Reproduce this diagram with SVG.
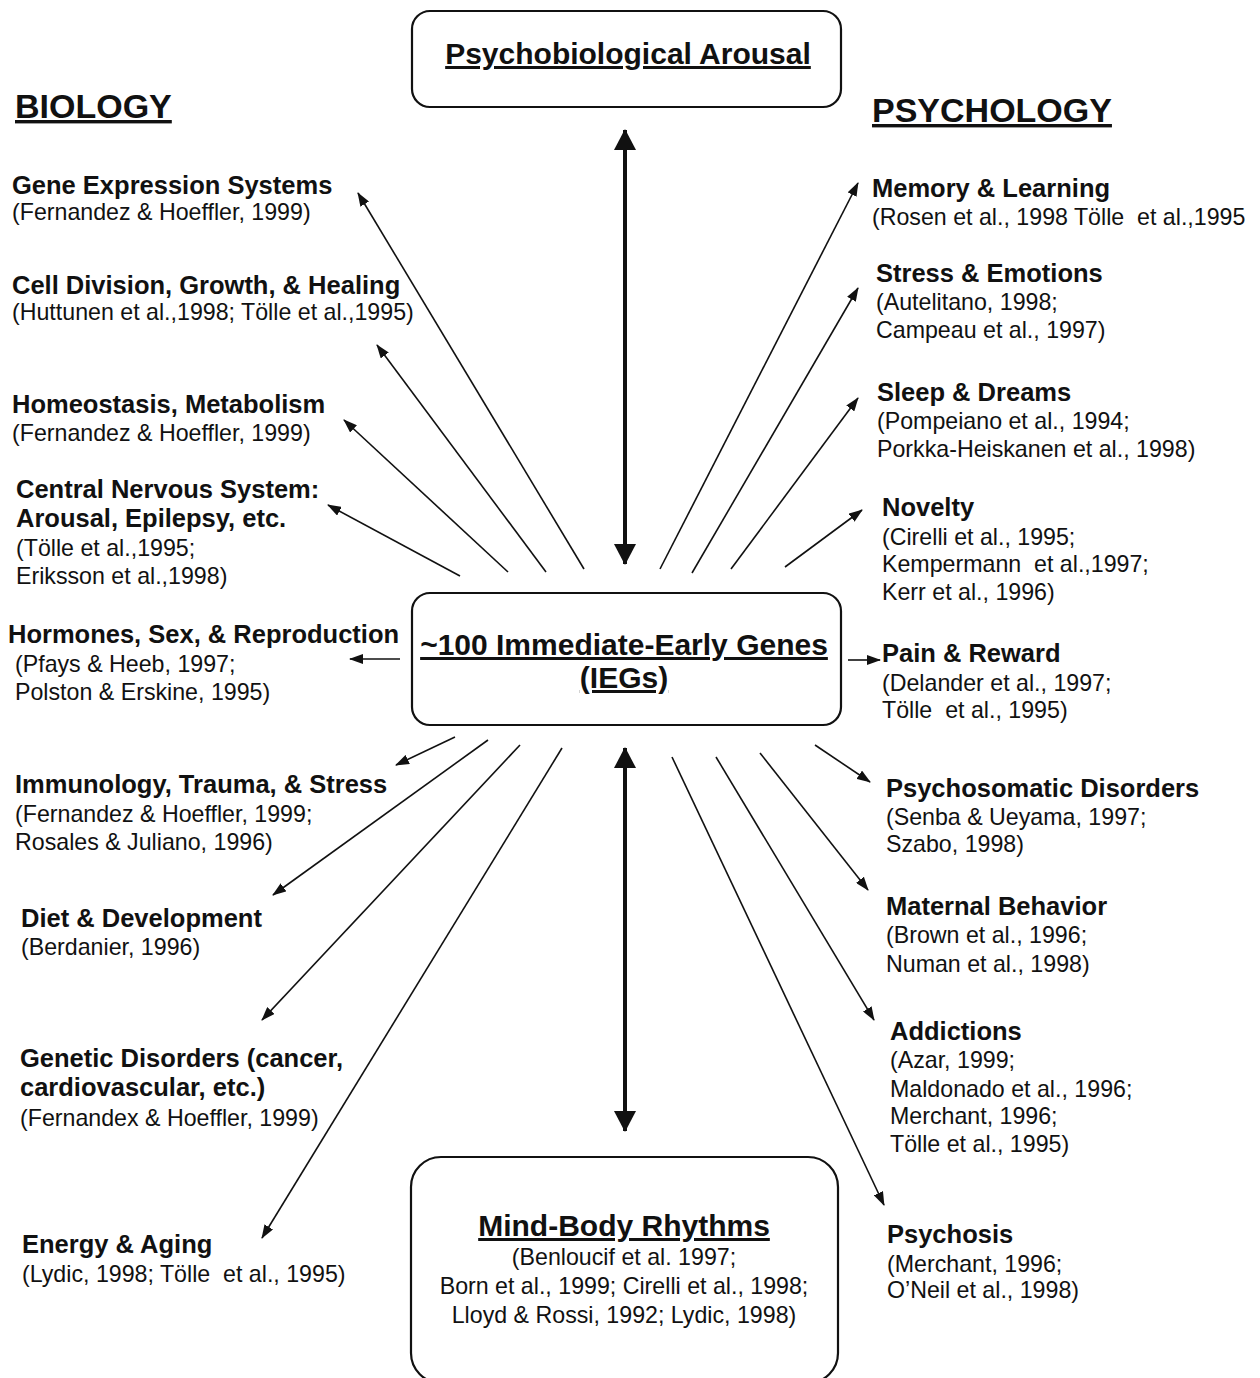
<svg xmlns="http://www.w3.org/2000/svg" width="1260" height="1378" viewBox="0 0 1260 1378">
<style>
.h{font-family:"Liberation Sans",Arial,sans-serif;font-weight:bold;font-size:25.5px;fill:#111}
.r{font-family:"Liberation Sans",Arial,sans-serif;font-size:23.2px;fill:#111;white-space:pre}
.t{font-family:"Liberation Sans",Arial,sans-serif;font-weight:bold;font-size:34px;fill:#111;text-decoration:underline}
.b{font-family:"Liberation Sans",Arial,sans-serif;font-weight:bold;fill:#111;text-decoration:underline}
.box{fill:none;stroke:#111;stroke-width:2.2}
.c{stroke:#111;stroke-width:1.6;fill:none;marker-end:url(#ah)}
.v{stroke:#111;stroke-width:4;fill:none;marker-start:url(#big);marker-end:url(#big)}
</style>
<defs>
<marker id="ah" markerUnits="userSpaceOnUse" markerWidth="14" markerHeight="10" refX="13" refY="5" orient="auto"><path d="M0,0 L14,5 L0,10 z" fill="#111"/></marker>
<marker id="big" markerUnits="userSpaceOnUse" markerWidth="22" markerHeight="22" refX="20" refY="11" orient="auto-start-reverse"><path d="M0,0 L21,11 L0,22 z" fill="#111"/></marker>
</defs>
<rect width="1260" height="1378" fill="#fff"/>

<g id="top-box">
<rect class="box" x="412" y="11" width="429" height="96" rx="18"/>
<text class="b" x="628" y="64" font-size="30" text-anchor="middle">Psychobiological Arousal</text>
</g>
<g id="center-box">
<rect class="box" x="412" y="593" width="429" height="132" rx="18"/>
<text class="b" x="624" y="655" font-size="30" text-anchor="middle">~100 Immediate-Early Genes</text>
<text class="b" x="624" y="688" font-size="30" text-anchor="middle">(IEGs)</text>
</g>
<g id="bottom-box">
<rect class="box" x="411" y="1157" width="427" height="226" rx="30"/>
<text class="b" x="624" y="1236" font-size="30" text-anchor="middle">Mind-Body Rhythms</text>
<text class="r" x="624" y="1265" text-anchor="middle">(Benloucif et al. 1997;</text>
<text class="r" x="624" y="1294" text-anchor="middle" font-size="24">Born et al., 1999; Cirelli et al., 1998;</text>
<text class="r" x="624" y="1323" text-anchor="middle" font-size="24">Lloyd &amp; Rossi, 1992; Lydic, 1998)</text>
</g>

<g id="biology-title"><text class="t" x="15" y="118">BIOLOGY</text></g>
<g id="psychology-title"><text class="t" x="872" y="122">PSYCHOLOGY</text></g>

<g id="gene-expression">
<text class="h" x="12" y="194">Gene Expression Systems</text>
<text class="r" x="12" y="220">(Fernandez &amp; Hoeffler, 1999)</text>
</g>
<g id="cell-division">
<text class="h" x="12" y="294">Cell Division, Growth, &amp; Healing</text>
<text class="r" x="12" y="320">(Huttunen et al.,1998; Tölle et al.,1995)</text>
</g>
<g id="homeostasis">
<text class="h" x="12" y="413">Homeostasis, Metabolism</text>
<text class="r" x="12" y="441">(Fernandez &amp; Hoeffler, 1999)</text>
</g>
<g id="cns">
<text class="h" x="16" y="498">Central Nervous System:</text>
<text class="h" x="16" y="527">Arousal, Epilepsy, etc.</text>
<text class="r" x="16" y="556">(Tölle et al.,1995;</text>
<text class="r" x="16" y="584">Eriksson et al.,1998)</text>
</g>
<g id="hormones">
<text class="h" x="8" y="643">Hormones, Sex, &amp; Reproduction</text>
<text class="r" x="15" y="672">(Pfays &amp; Heeb, 1997;</text>
<text class="r" x="15" y="700">Polston &amp; Erskine, 1995)</text>
</g>
<g id="immunology">
<text class="h" x="15" y="793">Immunology, Trauma, &amp; Stress</text>
<text class="r" x="15" y="822">(Fernandez &amp; Hoeffler, 1999;</text>
<text class="r" x="15" y="850">Rosales &amp; Juliano, 1996)</text>
</g>
<g id="diet">
<text class="h" x="21" y="927">Diet &amp; Development</text>
<text class="r" x="21" y="955">(Berdanier, 1996)</text>
</g>
<g id="genetic">
<text class="h" x="20" y="1067">Genetic Disorders (cancer,</text>
<text class="h" x="20" y="1096">cardiovascular, etc.)</text>
<text class="r" x="20" y="1126">(Fernandex &amp; Hoeffler, 1999)</text>
</g>
<g id="energy">
<text class="h" x="22" y="1253">Energy &amp; Aging</text>
<text class="r" x="22" y="1282">(Lydic, 1998; Tölle  et al., 1995)</text>
</g>

<g id="memory">
<text class="h" x="872" y="197">Memory &amp; Learning</text>
<text class="r" x="872" y="225">(Rosen et al., 1998 Tölle  et al.,1995</text>
</g>
<g id="stress">
<text class="h" x="876" y="282">Stress &amp; Emotions</text>
<text class="r" x="876" y="310">(Autelitano, 1998;</text>
<text class="r" x="876" y="338">Campeau et al., 1997)</text>
</g>
<g id="sleep">
<text class="h" x="877" y="401">Sleep &amp; Dreams</text>
<text class="r" x="877" y="429">(Pompeiano et al., 1994;</text>
<text class="r" x="877" y="457">Porkka-Heiskanen et al., 1998)</text>
</g>
<g id="novelty">
<text class="h" x="882" y="516">Novelty</text>
<text class="r" x="882" y="545">(Cirelli et al., 1995;</text>
<text class="r" x="882" y="572">Kempermann  et al.,1997;</text>
<text class="r" x="882" y="600">Kerr et al., 1996)</text>
</g>
<g id="pain">
<text class="h" x="882" y="662">Pain &amp; Reward</text>
<text class="r" x="882" y="691">(Delander et al., 1997;</text>
<text class="r" x="882" y="718">Tölle  et al., 1995)</text>
</g>
<g id="psychosomatic">
<text class="h" x="886" y="797">Psychosomatic Disorders</text>
<text class="r" x="886" y="825">(Senba &amp; Ueyama, 1997;</text>
<text class="r" x="886" y="852">Szabo, 1998)</text>
</g>
<g id="maternal">
<text class="h" x="886" y="915">Maternal Behavior</text>
<text class="r" x="886" y="943">(Brown et al., 1996;</text>
<text class="r" x="886" y="972">Numan et al., 1998)</text>
</g>
<g id="addictions">
<text class="h" x="890" y="1040">Addictions</text>
<text class="r" x="890" y="1068">(Azar, 1999;</text>
<text class="r" x="890" y="1097">Maldonado et al., 1996;</text>
<text class="r" x="890" y="1124">Merchant, 1996;</text>
<text class="r" x="890" y="1152">Tölle et al., 1995)</text>
</g>
<g id="psychosis">
<text class="h" x="887" y="1243">Psychosis</text>
<text class="r" x="887" y="1272">(Merchant, 1996;</text>
<text class="r" x="887" y="1298">O’Neil et al., 1998)</text>
</g>

<g id="connectors">
<line class="v" x1="625" y1="130" x2="625" y2="564"/>
<line class="v" x1="625" y1="748" x2="625" y2="1131"/>
<line class="c" x1="584" y1="569" x2="358" y2="193"/>
<line class="c" x1="546" y1="572" x2="377" y2="345"/>
<line class="c" x1="508" y1="572" x2="344" y2="420"/>
<line class="c" x1="460" y1="576" x2="328" y2="505"/>
<line class="c" x1="400" y1="659" x2="350" y2="659"/>
<line class="c" x1="455" y1="737" x2="396" y2="765"/>
<line class="c" x1="488" y1="740" x2="273" y2="895"/>
<line class="c" x1="520" y1="745" x2="262" y2="1020"/>
<line class="c" x1="562" y1="748" x2="262" y2="1238"/>
<line class="c" x1="660" y1="569" x2="858" y2="183"/>
<line class="c" x1="692" y1="573" x2="858" y2="288"/>
<line class="c" x1="731" y1="569" x2="858" y2="398"/>
<line class="c" x1="785" y1="567" x2="862" y2="510"/>
<line class="c" x1="848" y1="660" x2="880" y2="660"/>
<line class="c" x1="815" y1="745" x2="870" y2="782"/>
<line class="c" x1="760" y1="753" x2="868" y2="890"/>
<line class="c" x1="716" y1="757" x2="874" y2="1020"/>
<line class="c" x1="672" y1="757" x2="884" y2="1205"/>
</g>
</svg>
